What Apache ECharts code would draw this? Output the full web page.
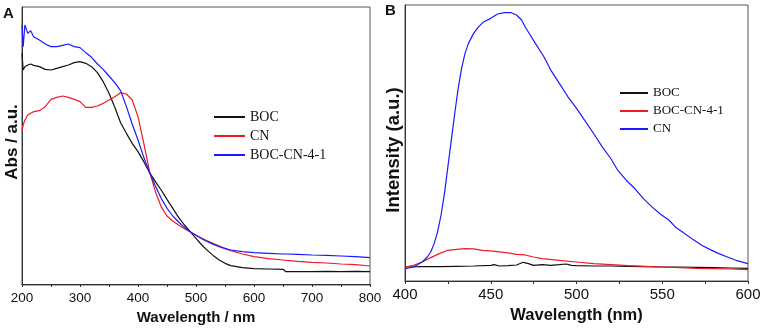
<!DOCTYPE html>
<html>
<head>
<meta charset="utf-8">
<script src="https://cdn.jsdelivr.net/npm/echarts@6/dist/echarts.min.js"></script>
<style>html,body{margin:0;padding:0;background:#fff;}#c{width:765px;height:331px;}</style>
</head>
<body>
<div id="c"></div>
<script>
// ---------- Panel A: UV-vis absorbance ----------
const wlA = [200,202,205,210,215,220,230,240,250,260,270,280,290,300,310,320,330,340,350,360,370,380,390,400,410,420,430,440,450,460,470,480,490,500,510,520,530,540,550,560,580,600,625,650,655,675,700,725,750,775,800];
const absBOC = [692,642,652,657,660,656,652,644,642,647,652,657,664,667,662,652,634,607,572,530,484,452,422,397,367,334,307,282,254,227,200,177,157,137,117,100,85,72,62,55,49,46,45,44,37,37,37,38,37,38,37];
const absCN = [457,477,492,507,512,517,520,532,554,560,564,560,554,547,530,530,534,542,552,562,574,570,552,502,422,337,277,232,204,189,177,166,156,146,137,129,121,114,107,100,90,82,76,72,71,68,65,63,60,58,54];
const absBOCCN = [777,712,777,752,760,742,732,720,712,712,716,720,712,709,694,680,660,644,624,604,580,532,480,432,380,334,294,257,227,204,186,170,157,146,136,127,119,112,106,102,97,94,92,90,90,89,87,86,84,82,79];
const ticksA = [200,300,400,500,600,700,800];

// ---------- Panel B: PL intensity ----------
const wlB_BOC = [400,410,420,430,440,450,452,455,460,465,469,472,475,480,485,490,494,497,500,510,520,530,540,550,560,570,580,590,600];
const plBOC = [42,43,43,44,45,47,49,45,46,48,56,52,47,49,47,49,51,47,46,45,45,44,43,42,42,41,40,39,38];
const wlB_BOCCN = [400,405,410,415,420,425,430,435,440,445,450,455,460,465,470,475,480,490,500,510,520,530,540,550,560,570,580,590,600];
const plBOCCN = [42,47,57,70,82,92,95,97,96,92,90,87,84,80,78,72,67,62,57,52,49,46,44,42,40,38,37,36,34];
const wlB_CN = [400,405,410,413,415,417,419,421,423,425,427,429,431,433,435,437,440,443,446,450,454,458,462,465,468,470,473,476,481,485,490,495,500,505,510,515,520,524,529,534,539,544,549,554,558,563,568,573,578,583,588,593,600];
const plCN = [37,42,57,72,87,112,147,197,262,342,422,502,577,637,682,712,742,762,777,787,800,804,804,797,782,762,737,712,672,632,592,552,517,480,442,402,367,332,302,277,247,222,200,182,160,142,124,107,94,82,72,62,52];
const ticksB = [400,450,500,550,600];

const BLACK = '#111111', RED = '#ee1c24', BLUE = '#1a1aff';
const zip = (xs, ys) => xs.map((x, i) => [x, ys[i]]);

function xAxis(gi, t, name, fs, tfs) {
  return {
    gridIndex: gi, type: 'value', min: t[0], max: t[t.length-1], interval: t[1]-t[0],
    name: name, nameLocation: 'middle', nameGap: 24,
    nameTextStyle: {fontFamily: 'Liberation Sans', fontWeight: 'bold', fontSize: tfs, color: '#111'},
    axisLine: {show: true, lineStyle: {color: '#333', width: 1}},
    axisTick: {show: true, inside: false, length: 3, lineStyle: {color: '#333'}},
    minorTick: {show: true, splitNumber: 2, length: 3, lineStyle: {color: '#333'}},
    splitLine: {show: false}, minorSplitLine: {show: false},
    axisLabel: {fontFamily: 'Liberation Sans', fontSize: fs, color: '#111', margin: 6}
  };
}
function yAxis(gi, min, max, name, tfs, gap, pad) {
  return {
    gridIndex: gi, type: 'value', min: min, max: max,
    name: name, nameLocation: 'middle', nameGap: gap, nameRotate: 90,
    nameTextStyle: {fontFamily: 'Liberation Sans', fontWeight: 'bold', fontSize: tfs, color: '#111', padding: pad},
    axisLine: {show: true, lineStyle: {color: '#333', width: 1}},
    axisTick: {show: false}, axisLabel: {show: false}, splitLine: {show: false}
  };
}
function line(name, xi, data, color) {
  return {type: 'line', name: name, xAxisIndex: xi, yAxisIndex: xi, data: data,
    showSymbol: false, symbol: 'none', smooth: false,
    lineStyle: {color: color, width: 1.2}, itemStyle: {color: color}};
}

const chart = echarts.init(document.getElementById('c'), null, {renderer: 'canvas'});
chart.setOption({
  animation: false,
  backgroundColor: '#fff',
  title: [
    {text: 'A', left: 3, top: 6, padding: 0, textStyle: {fontFamily: 'Liberation Sans', fontWeight: 'bold', fontSize: 15, color: '#111'}},
    {text: 'B', left: 385, top: 3, padding: 0, textStyle: {fontFamily: 'Liberation Sans', fontWeight: 'bold', fontSize: 15, color: '#111'}}
  ],
  grid: [
    {left: 22, top: 7, width: 348, height: 278, show: true, borderColor: '#555', borderWidth: 1, backgroundColor: 'transparent'},
    {left: 405, top: 5, width: 343, height: 276, show: true, borderColor: '#555', borderWidth: 1, backgroundColor: 'transparent'}
  ],
  xAxis: [xAxis(0, ticksA, 'Wavelength / nm', 13.5, 15), xAxis(1, ticksB, 'Wavelength (nm)', 15, 16.5)],
  yAxis: [yAxis(0, -3, 831, 'Abs / a.u.', 17, 1, [0, 0, 0, 8]), yAxis(1, 0, 827, 'Intensity (a.u.)', 18.5, 2, [0, 14, 0, 0])],
  legend: [
    {orient: 'vertical', left: 214, top: 110, itemWidth: 31, itemHeight: 2, itemGap: 5, icon: 'rect', padding: 0,
     textStyle: {fontFamily: 'Liberation Serif', fontSize: 14, lineHeight: 14, color: '#111'},
     data: [{name: 'BOC', itemStyle: {color: BLACK}}, {name: 'CN', itemStyle: {color: RED}}, {name: 'BOC-CN-4-1', itemStyle: {color: BLUE}}]},
    {orient: 'vertical', left: 620, top: 86, itemWidth: 28, itemHeight: 2, itemGap: 4, icon: 'rect', padding: 0,
     textStyle: {fontFamily: 'Liberation Serif', fontSize: 13, lineHeight: 14, color: '#111'},
     data: [{name: 'BOC', itemStyle: {color: BLACK}}, {name: 'BOC-CN-4-1', itemStyle: {color: RED}}, {name: 'CN', itemStyle: {color: BLUE}}]}
  ],
  series: [
    line('BOC', 0, zip(wlA, absBOC), BLACK),
    line('CN', 0, zip(wlA, absCN), RED),
    line('BOC-CN-4-1', 0, zip(wlA, absBOCCN), BLUE),
    line('BOC', 1, zip(wlB_BOC, plBOC), BLACK),
    line('BOC-CN-4-1', 1, zip(wlB_BOCCN, plBOCCN), RED),
    line('CN', 1, zip(wlB_CN, plCN), BLUE)
  ]
});
</script>
</body>
</html>
